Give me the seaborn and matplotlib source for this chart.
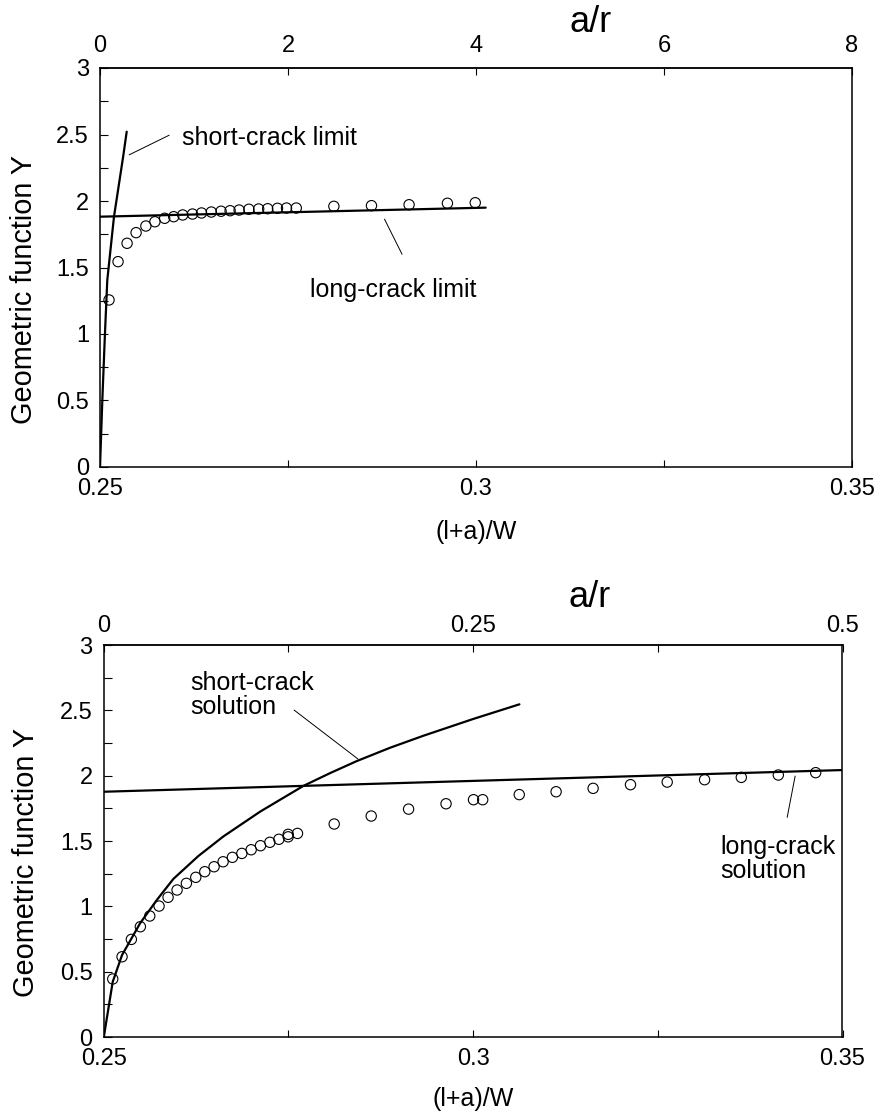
import matplotlib
matplotlib.use("Agg")
import matplotlib.pyplot as plt
import seaborn as sns
import pandas as pd
from matplotlib.ticker import FixedLocator, FixedFormatter, MultipleLocator

# ---------------- data ----------------
# top panel: circles ((l+a)/W, Y)
top_pts_x = [0.2512, 0.2524, 0.2536, 0.2548, 0.2561, 0.2573, 0.2586, 0.2598, 0.2610,
             0.2623, 0.2635, 0.2648, 0.2661, 0.2673, 0.2685, 0.2698, 0.2711, 0.2723,
             0.2736, 0.2748, 0.2761, 0.2811, 0.2861, 0.2911, 0.2962, 0.2999]
top_pts_y = [1.256, 1.544, 1.682, 1.762, 1.812, 1.844, 1.870, 1.882, 1.895,
             1.902, 1.910, 1.917, 1.923, 1.927, 1.932, 1.938, 1.940, 1.942,
             1.945, 1.947, 1.947, 1.960, 1.965, 1.972, 1.983, 1.987]
top_short_x = [0.2500, 0.25031, 0.25066, 0.25097, 0.25186, 0.25309, 0.25355]
top_short_y = [0.000, 0.504, 1.005, 1.406, 1.882, 2.338, 2.521]
top_long_x = [0.2500, 0.30129]
top_long_y = [1.882, 1.950]

# bottom panel
bot_pts_x = [0.25121, 0.25247, 0.25373, 0.25495, 0.25622, 0.25748, 0.25870, 0.25992,
             0.26118, 0.26245, 0.26367, 0.26493, 0.26615, 0.26741, 0.26869, 0.26995,
             0.27121, 0.27248, 0.27370, 0.27496, 0.27496, 0.27622, 0.28119, 0.28620,
             0.29126, 0.29633, 0.30005, 0.30129, 0.30624, 0.31123, 0.31624, 0.32130,
             0.32627, 0.33133, 0.33630, 0.34131, 0.34637]
bot_pts_y = [0.444, 0.614, 0.747, 0.844, 0.926, 1.002, 1.069, 1.125,
             1.176, 1.222, 1.265, 1.303, 1.341, 1.375, 1.405, 1.433,
             1.464, 1.490, 1.513, 1.532, 1.551, 1.558, 1.630, 1.691,
             1.744, 1.785, 1.816, 1.816, 1.855, 1.877, 1.903, 1.931,
             1.951, 1.969, 1.987, 2.005, 2.023]
bot_short_x = [0.2500, 0.25121, 0.25247, 0.25491, 0.25717, 0.25942, 0.26280, 0.26619,
               0.27117, 0.27703, 0.28065, 0.28426, 0.28877, 0.29329, 0.30007, 0.30626]
bot_short_y = [0.000, 0.423, 0.627, 0.870, 1.048, 1.210, 1.385, 1.535,
               1.725, 1.922, 2.020, 2.112, 2.214, 2.306, 2.435, 2.546]
bot_long_x = [0.2500, 0.3500]
bot_long_y = [1.877, 2.043]

# ticks / labels
x_ticks = [0.25, 0.275, 0.30, 0.325, 0.35]
x_tick_labels = ["0.25", "", "0.3", "", "0.35"]
y_major = [0, 0.5, 1, 1.5, 2, 2.5, 3]
y_major_labels = ["0", "0.5", "1", "1.5", "2", "2.5", "3"]
top_ar_ticks = [0, 2, 4, 6, 8]
top_ar_labels = ["0", "2", "4", "6", "8"]
bot_ar_ticks = [0, 0.125, 0.25, 0.375, 0.5]
bot_ar_labels = ["0", "", "0.25", "", "0.5"]

# ---------------- style ----------------
sns.set_theme(style="ticks")
plt.rcParams['font.family'] = ['Liberation Sans', 'DejaVu Sans']
plt.rcParams['axes.linewidth'] = 1.1

fig = plt.figure(figsize=(8.78, 11.12), dpi=100)
W, H = 878, 1112
ax1 = fig.add_axes([100 / W, 1 - 467 / H, 752 / W, 399 / H])
ax2 = fig.add_axes([103.8 / W, 1 - 1037 / H, 738.7 / W, 392 / H])

TICK_FS = 17
LBL_FS = 20.8
ANN_FS = 18
MS = 55


def style_axes(ax, scale, ar_ticks, ar_labels, top_pad):
    ax.set_xlim(0.25, 0.35)
    ax.set_ylim(0, 3)
    for s in ax.spines.values():
        s.set_color("black")
        s.set_linewidth(1.1)
    ax.xaxis.set_major_locator(FixedLocator(x_ticks))
    ax.xaxis.set_major_formatter(FixedFormatter(x_tick_labels))
    ax.yaxis.set_major_locator(FixedLocator(y_major))
    ax.yaxis.set_major_formatter(FixedFormatter(y_major_labels))
    ax.yaxis.set_minor_locator(MultipleLocator(0.25))
    ax.tick_params(axis="both", which="both", direction="in", colors="black",
                   labelsize=TICK_FS, width=0.8, top=False, right=False)
    ax.tick_params(axis="x", which="major", length=5, pad=8)
    ax.tick_params(axis="y", which="major", length=6, pad=8)
    ax.tick_params(axis="y", which="minor", length=6)
    sec = ax.secondary_xaxis("top", functions=(lambda x: scale * (x - 0.25),
                                               lambda a: 0.25 + a / scale))
    sec.xaxis.set_major_locator(FixedLocator(ar_ticks))
    sec.xaxis.set_major_formatter(FixedFormatter(ar_labels))
    sec.tick_params(direction="in", length=5, width=0.8, labelsize=TICK_FS,
                    pad=top_pad, colors="black")
    sec.spines["top"].set_linewidth(1.1)
    return sec


# ---------------- top panel ----------------
df_tp = pd.DataFrame({"x": top_pts_x, "y": top_pts_y})
sns.scatterplot(data=df_tp, x="x", y="y", ax=ax1, marker="o", s=MS,
                facecolor="none", edgecolor="black", linewidth=0.8, zorder=3)
sns.lineplot(x=top_short_x, y=top_short_y, ax=ax1, color="black", lw=1.6,
             sort=False, estimator=None)
sns.lineplot(x=top_long_x, y=top_long_y, ax=ax1, color="black", lw=1.6,
             sort=False, estimator=None)
style_axes(ax1, 80, top_ar_ticks, top_ar_labels, top_pad=8)
ax1.set_xlabel("(l+a)/W", fontsize=ANN_FS, color="black")
ax1.xaxis.set_label_coords(0.5, -0.133)
ax1.set_ylabel("Geometric function Y", fontsize=LBL_FS, color="black")
ax1.yaxis.set_label_coords(-0.082, 0.445)
ax1.text(0.652, 1.115, "a/r", transform=ax1.transAxes, ha="center", va="center",
         fontsize=26, color="black")

ax1.annotate("", xy=(0.25355, 2.338), xytext=(0.25953, 2.504),
             arrowprops=dict(arrowstyle="-", color="black", lw=0.7))
ax1.text(0.2609, 2.421, "short-crack limit", fontsize=ANN_FS, va="baseline", ha="left",
         color="black")
ax1.annotate("", xy=(0.28767, 1.882), xytext=(0.29033, 1.581),
             arrowprops=dict(arrowstyle="-", color="black", lw=0.7))
ax1.text(0.27793, 1.280, "long-crack limit", fontsize=ANN_FS, va="baseline", ha="left",
         color="black")

# ---------------- bottom panel ----------------
df_bp = pd.DataFrame({"x": bot_pts_x, "y": bot_pts_y})
sns.scatterplot(data=df_bp, x="x", y="y", ax=ax2, marker="o", s=MS,
                facecolor="none", edgecolor="black", linewidth=0.8, zorder=3)
sns.lineplot(x=bot_short_x, y=bot_short_y, ax=ax2, color="black", lw=1.6,
             sort=False, estimator=None)
sns.lineplot(x=bot_long_x, y=bot_long_y, ax=ax2, color="black", lw=1.6,
             sort=False, estimator=None)
style_axes(ax2, 5, bot_ar_ticks, bot_ar_labels, top_pad=6)
ax2.set_xlabel("(l+a)/W", fontsize=ANN_FS, color="black")
ax2.xaxis.set_label_coords(0.5, -0.128)
ax2.set_ylabel("Geometric function Y", fontsize=LBL_FS, color="black")
ax2.yaxis.set_label_coords(-0.087, 0.446)
ax2.text(0.658, 1.12, "a/r", transform=ax2.transAxes, ha="center", va="center",
         fontsize=26, color="black")

ax2.annotate("", xy=(0.28472, 2.114), xytext=(0.27546, 2.515),
             arrowprops=dict(arrowstyle="-", color="black", lw=0.7))
ax2.text(0.26168, 2.655, "short-crack", fontsize=ANN_FS, va="baseline", ha="left",
         color="black")
ax2.text(0.26168, 2.471, "solution", fontsize=ANN_FS, va="baseline", ha="left",
         color="black")
ax2.annotate("", xy=(0.34366, 2.018), xytext=(0.34244, 1.660),
             arrowprops=dict(arrowstyle="-", color="black", lw=0.7))
ax2.text(0.33348, 1.400, "long-crack", fontsize=ANN_FS, va="baseline", ha="left",
         color="black")
ax2.text(0.33348, 1.214, "solution", fontsize=ANN_FS, va="baseline", ha="left",
         color="black")

fig.savefig("out.png", dpi=100, facecolor="white")
